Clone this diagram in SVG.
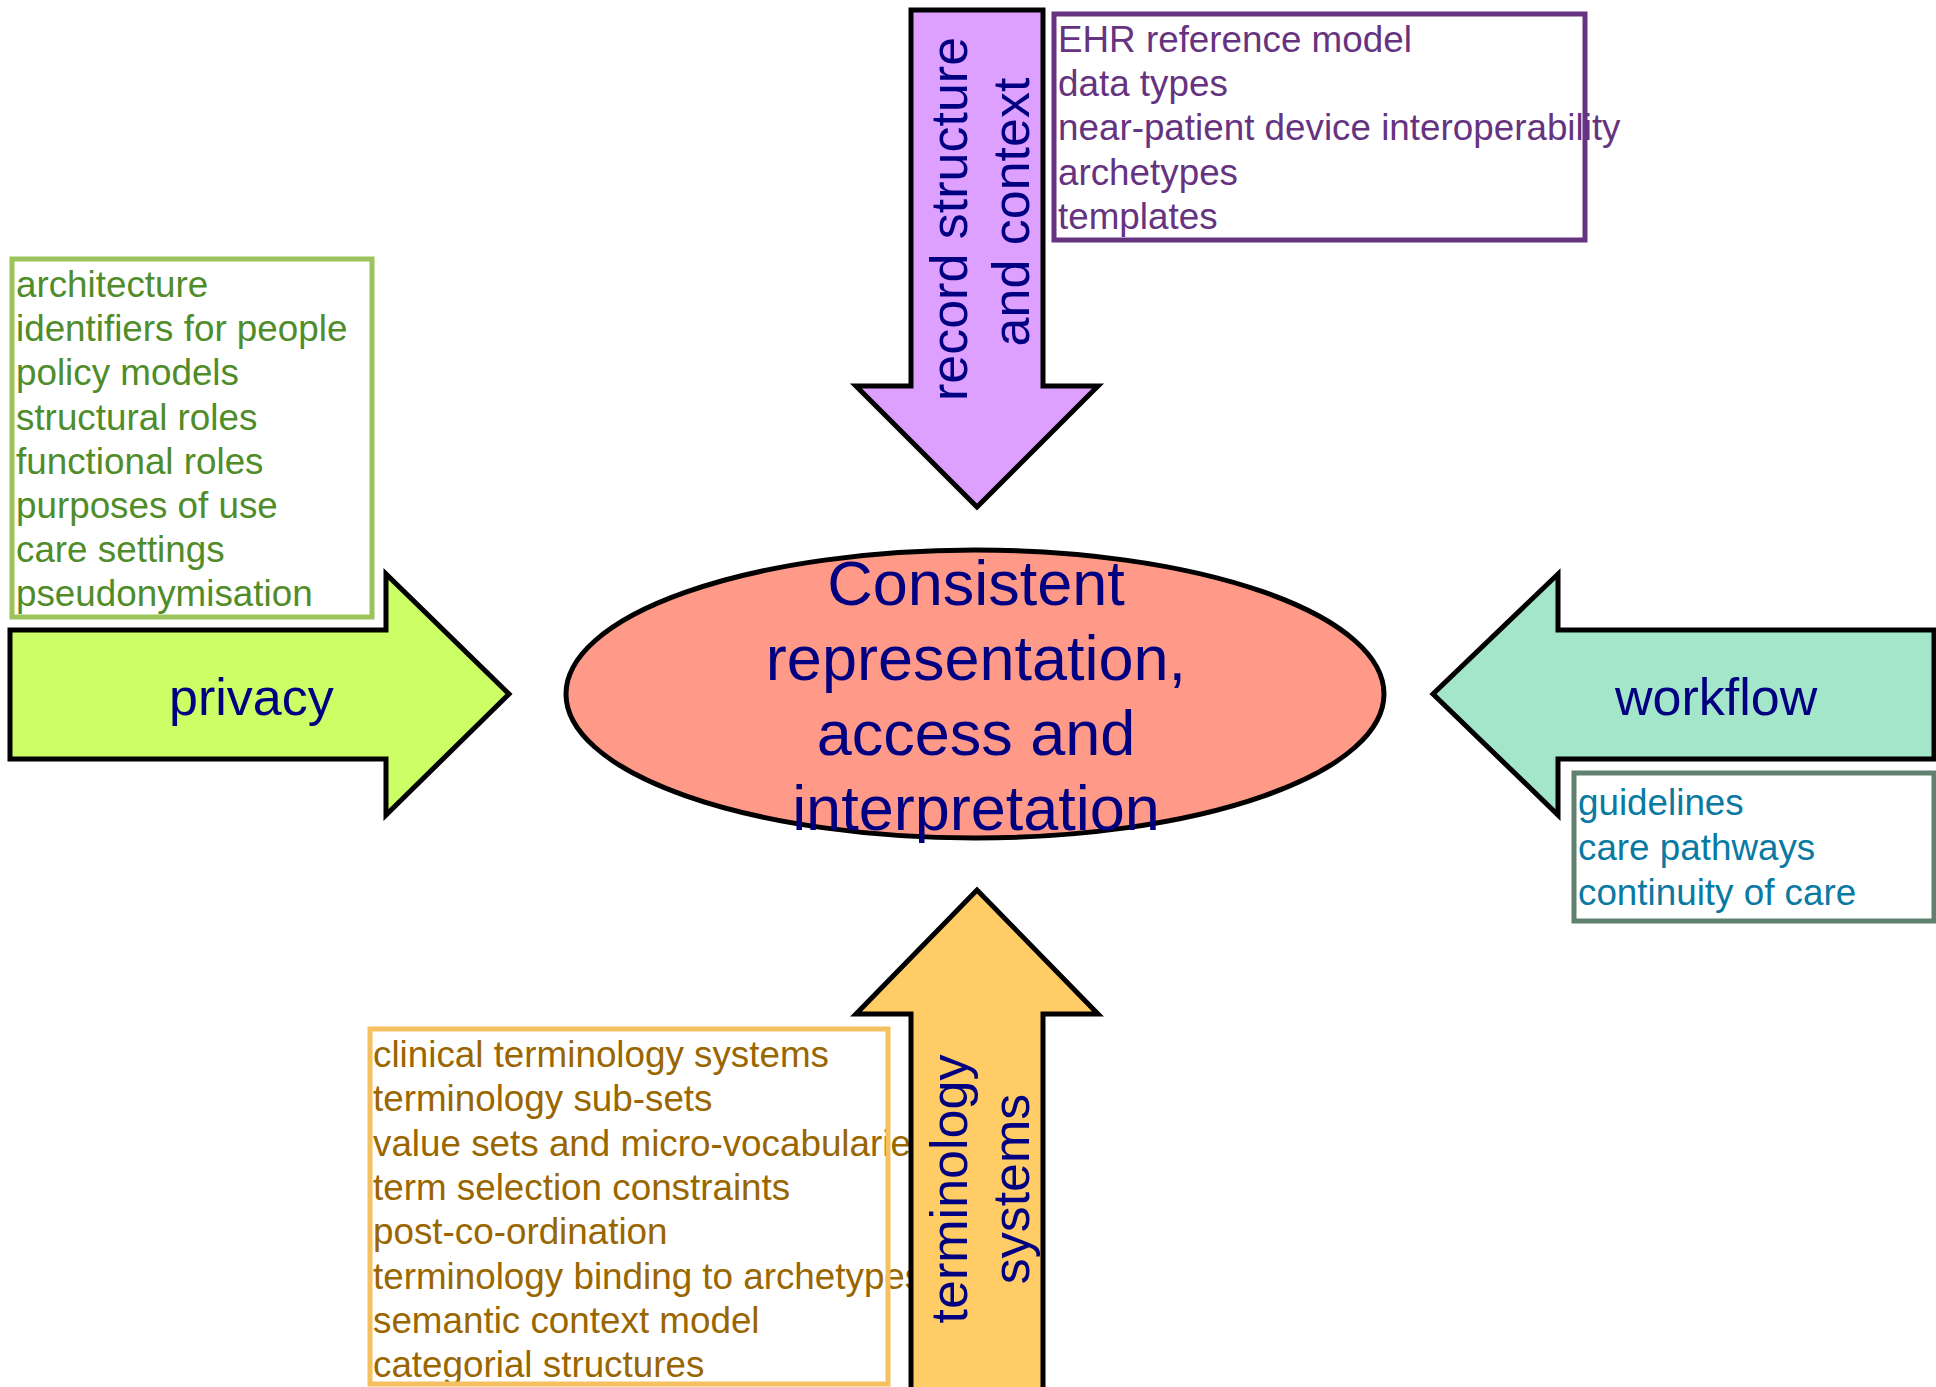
<svg xmlns="http://www.w3.org/2000/svg" width="1936" height="1387" viewBox="0 0 1936 1387">
<style>
.lbl{font-family:"Liberation Sans",Arial,sans-serif;font-size:52px;fill:#000080}
.lst{font-family:"Liberation Sans",Arial,sans-serif;font-size:36.8px}
.arrow{stroke:#000;stroke-width:5;stroke-linejoin:miter}
.box{fill:none;stroke-width:5}
</style>
<rect width="1936" height="1387" fill="#fff"/>
<g id="connectors"></g>
<g id="privacy-list">
<text class="lst" fill="#508C2A"><tspan x="16" y="297">architecture</tspan><tspan x="16" y="341">identifiers for people</tspan><tspan x="16" y="385">policy models</tspan><tspan x="16" y="430">structural roles</tspan><tspan x="16" y="474">functional roles</tspan><tspan x="16" y="518">purposes of use</tspan><tspan x="16" y="562">care settings</tspan><tspan x="16" y="606">pseudonymisation</tspan></text>
<rect class="box" stroke="#9BC45A" x="12" y="259" width="360" height="358"/>
</g>
<g id="record-list">
<text class="lst" fill="#663380"><tspan x="1058" y="52">EHR reference model</tspan><tspan x="1058" y="96">data types</tspan><tspan x="1058" y="140">near-patient device interoperability</tspan><tspan x="1058" y="185">archetypes</tspan><tspan x="1058" y="229">templates</tspan></text>
<rect class="box" stroke="#663380" x="1054" y="14" width="531" height="226"/>
</g>
<g id="workflow-list">
<text class="lst" fill="#0A7AA3"><tspan x="1578" y="815">guidelines</tspan><tspan x="1578" y="860">care pathways</tspan><tspan x="1578" y="905">continuity of care</tspan></text>
<rect class="box" stroke="#608070" x="1574" y="773" width="360" height="148"/>
</g>
<g id="terminology-list">
<text class="lst" fill="#996600"><tspan x="373" y="1067">clinical terminology systems</tspan><tspan x="373" y="1111">terminology sub-sets</tspan><tspan x="373" y="1156">value sets and micro-vocabularies</tspan><tspan x="373" y="1200">term selection constraints</tspan><tspan x="373" y="1244">post-co-ordination</tspan><tspan x="373" y="1289">terminology binding to archetypes</tspan><tspan x="373" y="1333">semantic context model</tspan><tspan x="373" y="1377">categorial structures</tspan></text>
<rect class="box" stroke="#F5C060" x="370" y="1029" width="518" height="355"/>
</g>
<g id="record-arrow">
<polygon class="arrow" fill="#DDA0FF" points="911,10 1043,10 1043,386 1098,386 977,507 856,386 911,386"/>
<text class="lbl" text-anchor="middle" transform="translate(967,219) rotate(-90)">record structure</text>
<text class="lbl" text-anchor="middle" transform="translate(1029,212) rotate(-90)">and context</text>
</g>
<g id="privacy-arrow">
<polygon class="arrow" fill="#CCFF66" points="10,630 386,630 386,574 509,694 386,815 386,759 10,759"/>
<text class="lbl" x="169" y="715">privacy</text>
</g>
<g id="workflow-arrow">
<polygon class="arrow" fill="#A3E6C9" points="1934,630 1558,630 1558,574 1433,694 1558,815 1558,759 1934,759"/>
<text class="lbl" x="1615" y="715">workflow</text>
</g>
<g id="terminology-arrow">
<polygon class="arrow" fill="#FFCC66" points="911,1395 911,1014 856,1014 977,890 1098,1014 1043,1014 1043,1395"/>
<text class="lbl" text-anchor="middle" transform="translate(967,1189) rotate(-90)">terminology</text>
<text class="lbl" text-anchor="middle" transform="translate(1029,1189) rotate(-90)">systems</text>
</g>
<g id="center">
<ellipse cx="975" cy="694" rx="409" ry="144" fill="#FF9988" stroke="#000" stroke-width="5"/>
<text font-family="Liberation Sans, Arial, sans-serif" font-size="63" fill="#000080" text-anchor="middle"><tspan x="976" y="605">Consistent</tspan><tspan x="976" y="680">representation,</tspan><tspan x="976" y="755">access and</tspan><tspan x="976" y="830">interpretation</tspan></text>
</g>
</svg>
